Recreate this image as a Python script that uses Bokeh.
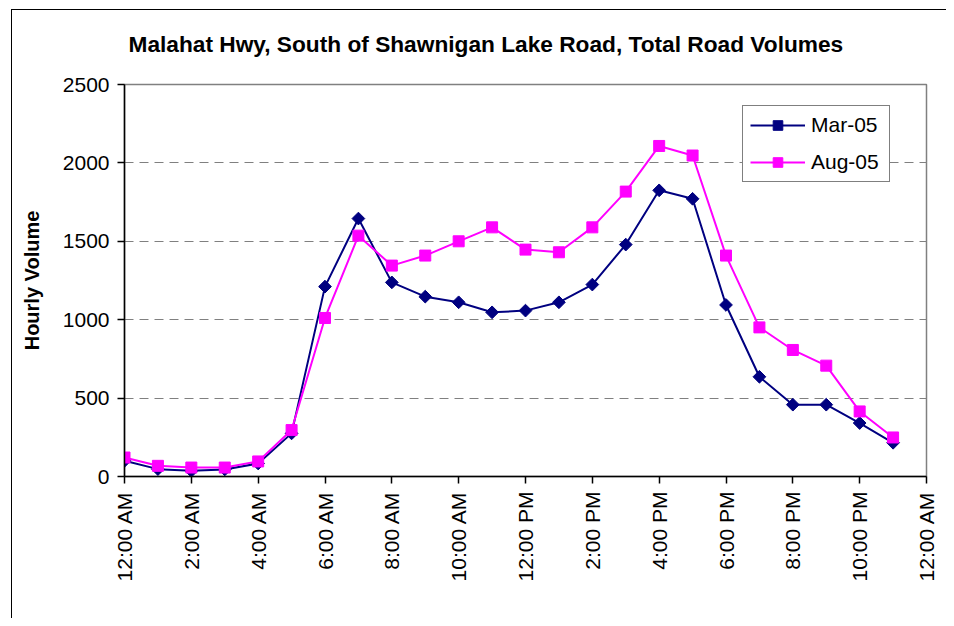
import math
from bokeh.plotting import figure
from bokeh.models import FixedTicker, Range1d, Legend, LegendItem, ColumnDataSource
from bokeh.embed import file_html
from bokeh.resources import INLINE

hours = list(range(24))
mar_05 = [100, 47, 36, 45, 83, 275, 1211, 1645, 1238, 1147, 1111, 1047, 1058, 1111,
          1224, 1479, 1825, 1771, 1094, 636, 458, 458, 341, 215]
aug_05 = [121, 68, 57, 57, 96, 296, 1011, 1536, 1345, 1409, 1500, 1589, 1447, 1430,
          1589, 1817, 2108, 2047, 1409, 951, 807, 707, 415, 249]
tick_hours = [0, 2, 4, 6, 8, 10, 12, 14, 16, 18, 20, 22, 24]
tick_labels = ["12:00 AM", "2:00 AM", "4:00 AM", "6:00 AM", "8:00 AM", "10:00 AM",
               "12:00 PM", "2:00 PM", "4:00 PM", "6:00 PM", "8:00 PM", "10:00 PM", "12:00 AM"]
y_ticks = [0, 500, 1000, 1500, 2000, 2500]
grid_ticks = [500, 1000, 1500, 2000]

title_text = "Malahat Hwy, South of Shawnigan Lake Road, Total Road Volumes"
FONT = "Liberation Sans"

src = ColumnDataSource(data=dict(hour=hours, mar=mar_05, aug=aug_05))

p = figure(frame_width=802, frame_height=392,
           x_range=Range1d(0, 24), y_range=Range1d(0, 2500),
           output_backend="svg", toolbar_location=None,
           min_border_left=124, min_border_top=84, min_border_right=20,
           min_border_bottom=142)

# outer chart border (left and top edges visible in the reference), painted
# behind a transparent canvas border area so the layout is not affected
p.border_fill_color = None
p.styles = {
    "background": ("linear-gradient(#000, #000) 11px 9px / 1px 100% no-repeat, "
                   "linear-gradient(#000, #000) 11px 9px / 100% 1px no-repeat, white"),
}

p.title.text = title_text
p.title.align = "left"
p.title.offset = 4
p.title.text_font = FONT
p.title.text_font_size = "22.7px"
p.title.text_font_style = "bold"
p.title.text_color = "black"
p.title.standoff = 56

p.background_fill_color = "white"
p.outline_line_color = "#808080"
p.outline_line_width = 1.5

# axes
p.xaxis.ticker = FixedTicker(ticks=tick_hours)
p.xaxis.major_label_overrides = {h: lab for h, lab in zip(tick_hours, tick_labels)}
p.xaxis.major_label_orientation = math.pi / 2
p.yaxis.ticker = FixedTicker(ticks=y_ticks)
for ax in (p.xaxis, p.yaxis):
    ax.major_label_text_font = FONT
    ax.major_label_text_font_size = "21px"
    ax.major_label_text_color = "black"
    ax.axis_line_color = "black"
    ax.axis_line_width = 1.5
    ax.major_tick_line_color = "black"
    ax.major_tick_line_width = 1.5
    ax.major_tick_out = 7
    ax.major_tick_in = 0
    ax.minor_tick_line_color = None
    ax.major_label_standoff = 8
p.yaxis.axis_label = "Hourly Volume"
p.yaxis.axis_label_text_font = FONT
p.yaxis.axis_label_text_font_size = "20px"
p.yaxis.axis_label_text_font_style = "bold"
p.yaxis.axis_label_text_color = "black"
p.yaxis.axis_label_standoff = 17

p.xgrid.grid_line_color = None
p.ygrid.ticker = FixedTicker(ticks=grid_ticks)
p.ygrid.grid_line_color = "#808080"
p.ygrid.grid_line_dash = "9 6"
p.ygrid.grid_line_width = 1

# series
l1 = p.line("hour", "mar", source=src, line_color="#000080", line_width=2)
s1 = p.scatter("hour", "mar", source=src, marker="square", angle=math.pi / 4, size=9,
               fill_color="#000080", line_color="#000080")
l2 = p.line("hour", "aug", source=src, line_color="#FF00FF", line_width=2)
s2 = p.scatter("hour", "aug", source=src, marker="square", size=11,
               fill_color="#FF00FF", line_color="#FF00FF")

legend = Legend(items=[LegendItem(label="Mar-05", renderers=[l1, s1]),
                       LegendItem(label="Aug-05", renderers=[l2, s2])],
                location=(618, 294))
legend.label_text_font = FONT
legend.label_text_font_size = "21px"
legend.label_text_color = "black"
legend.border_line_color = "black"
legend.border_line_width = 1
legend.background_fill_color = "white"
legend.background_fill_alpha = 1
legend.glyph_width = 55
legend.glyph_height = 24
legend.label_height = 24
legend.label_standoff = 6
legend.label_width = 71
legend.padding = 7
legend.spacing = 13
legend.margin = 0
p.add_layout(legend, "center")

open("out.html", "w").write(file_html(p, INLINE))
